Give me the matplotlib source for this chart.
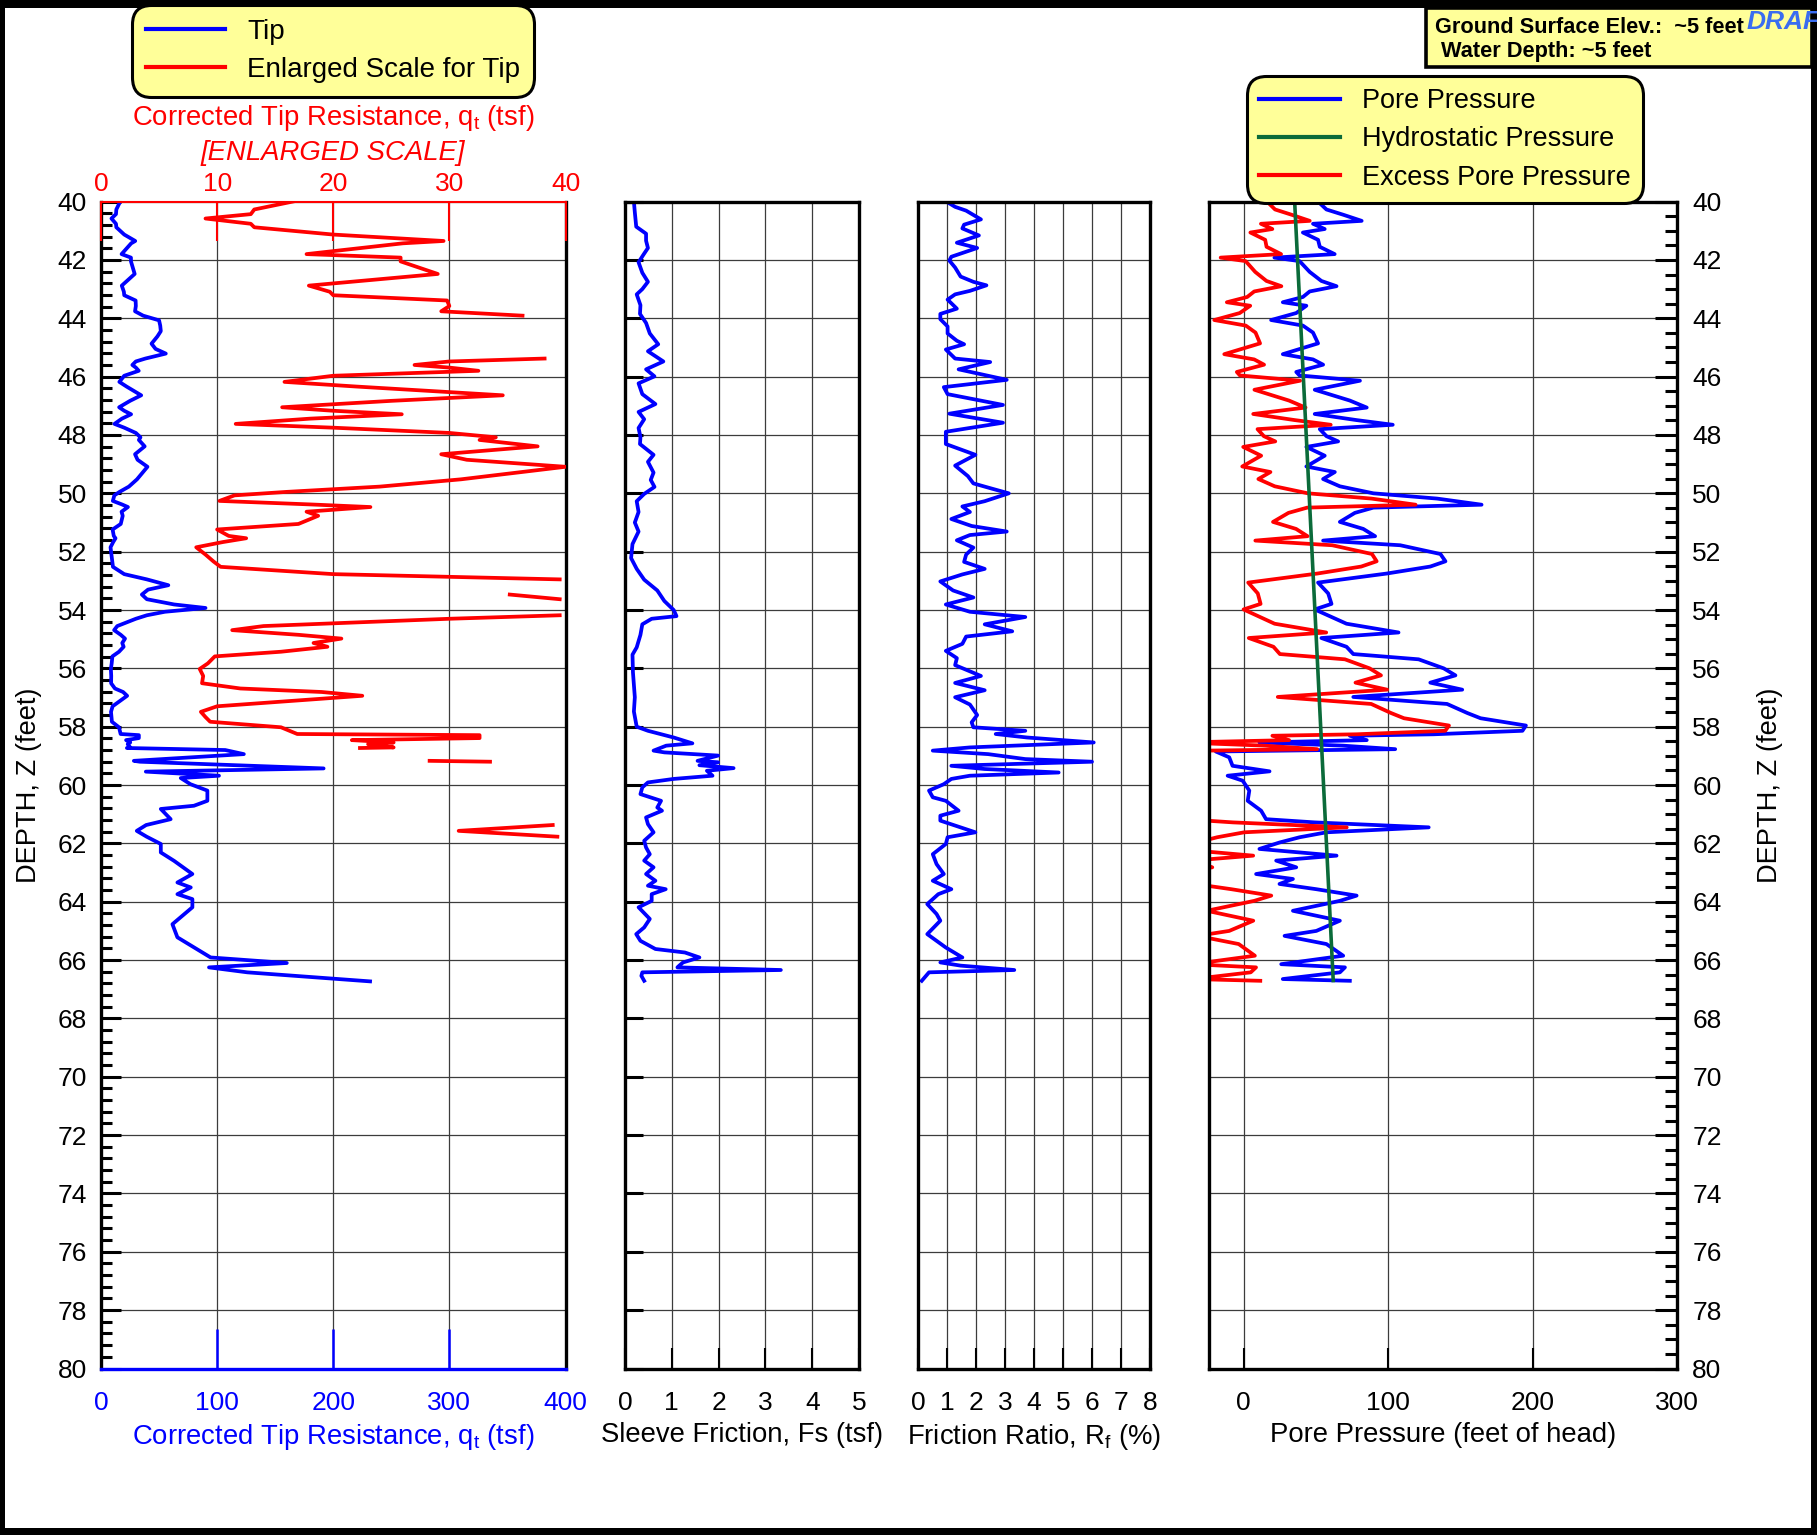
import numpy as np
import matplotlib
matplotlib.use("Agg")
import matplotlib.pyplot as plt
from matplotlib.ticker import MultipleLocator
from matplotlib.lines import Line2D
from matplotlib.patches import Rectangle

plt.rcParams['font.family'] = ['Liberation Sans', 'DejaVu Sans']
plt.rcParams['mathtext.fontset'] = 'custom'
plt.rcParams['mathtext.rm'] = 'Liberation Sans'
plt.rcParams['mathtext.it'] = 'Liberation Sans:italic'

# ---- data read off the CPT log ----
# corrected tip resistance qt (tsf)
tip_depth = [40.00, 40.27, 40.43, 40.58, 40.76, 40.88, 41.13, 41.35, 41.43, 41.80, 41.92, 42.05,
             42.48, 42.88, 43.09, 43.21, 43.39, 43.58, 43.76, 43.91, 44.07, 44.25, 44.44, 44.62,
             44.87, 45.05, 45.21, 45.38, 45.48, 45.60, 45.69, 45.80, 45.90, 45.97, 46.18, 46.34,
             46.64, 46.83, 47.05, 47.17, 47.29, 47.44, 47.62, 47.75, 47.93, 48.08, 48.17, 48.39,
             48.54, 48.66, 48.85, 49.09, 49.28, 49.52, 49.77, 49.95, 50.07, 50.26, 50.38, 50.47,
             50.63, 50.77, 51.05, 51.24, 51.46, 51.54, 51.67, 51.85, 52.10, 52.34, 52.52, 52.77,
             52.95, 53.15, 53.30, 53.47, 53.63, 53.81, 53.93, 54.06, 54.18, 54.30, 54.55, 54.69,
             54.85, 54.98, 55.13, 55.26, 55.43, 55.59, 55.83, 56.02, 56.26, 56.51, 56.69, 56.81,
             56.94, 57.10, 57.30, 57.49, 57.67, 57.83, 58.02, 58.25, 58.29, 58.39, 58.46, 58.54,
             58.60, 58.71, 58.73, 58.80, 58.94, 59.17, 59.20, 59.43, 59.54, 59.68, 59.76, 59.97,
             60.19, 60.54, 60.71, 60.82, 61.17, 61.37, 61.57, 61.77, 62.02, 62.31, 62.60, 63.05,
             63.34, 63.51, 63.74, 63.91, 64.19, 64.77, 65.22, 65.91, 66.10, 66.25, 66.42, 66.73]
tip_qt = [16.5, 13.2, 12.9, 9.0, 12.9, 13.2, 20.0, 29.5, 26.0, 17.7, 25.8, 25.8,
          29.0, 17.9, 19.7, 20.0, 29.8, 30.0, 29.3, 36.3, 50.0, 51.0, 51.5, 48.6,
          43.5, 47.0, 55.8, 38.2, 30.0, 27.0, 30.0, 32.5, 25.0, 20.0, 15.8, 22.0,
          34.6, 25.0, 15.6, 20.0, 25.9, 18.0, 11.6, 20.0, 30.0, 34.0, 32.6, 37.6,
          33.0, 29.3, 31.5, 40.0, 36.0, 31.0, 24.0, 16.0, 11.5, 10.2, 18.0, 23.2,
          17.7, 18.7, 17.0, 10.0, 11.0, 12.5, 10.5, 8.2, 9.0, 9.7, 10.3, 20.0,
          39.5, 58.0, 40.5, 35.2, 39.5, 63.0, 90.0, 55.0, 39.5, 30.0, 14.0, 11.3,
          17.0, 20.7, 18.3, 19.5, 15.5, 9.8, 9.2, 8.5, 8.8, 8.7, 12.0, 19.0,
          22.5, 16.9, 10.0, 8.6, 9.0, 9.4, 15.5, 16.9, 32.6, 32.6, 21.6, 25.2,
          23.0, 25.2, 22.3, 107.0, 123.0, 28.3, 33.5, 191.7, 38.6, 101.6, 68.7, 77.0,
          91.6, 91.6, 80.0, 51.5, 60.0, 38.9, 30.8, 39.3, 51.5, 51.5, 63.0, 78.7,
          65.8, 77.3, 65.8, 78.7, 78.7, 61.5, 65.8, 94.4, 160.0, 93.0, 126.0, 231.7]

# sleeve friction fs (tsf)
fs_depth = [40.00, 40.37, 40.86, 41.10, 41.34, 41.59, 41.83, 42.08, 42.44, 42.75, 43.00, 43.18,
            43.55, 43.85, 44.16, 44.52, 44.89, 45.13, 45.48, 45.75, 45.99, 46.23, 46.60, 46.94,
            47.21, 47.46, 47.76, 48.07, 48.31, 48.68, 48.92, 49.29, 49.54, 49.78, 50.02, 50.27,
            50.64, 51.00, 51.31, 51.74, 52.22, 52.59, 52.96, 53.33, 53.69, 54.00, 54.21, 54.30,
            54.49, 54.85, 55.28, 55.53, 56.14, 56.99, 57.48, 58.00, 58.14, 58.37, 58.57, 58.65,
            58.82, 58.88, 58.99, 59.17, 59.22, 59.32, 59.42, 59.51, 59.68, 59.79, 59.91, 60.08,
            60.31, 60.54, 60.77, 60.88, 61.11, 61.34, 61.62, 61.91, 62.14, 62.37, 62.59, 62.82,
            63.05, 63.28, 63.45, 63.57, 63.74, 63.97, 64.19, 64.59, 64.88, 65.11, 65.34, 65.62,
            65.74, 65.91, 66.08, 66.19, 66.25, 66.34, 66.42, 66.54, 66.71]
fs_tsf = [0.19, 0.21, 0.24, 0.45, 0.45, 0.49, 0.39, 0.29, 0.37, 0.49, 0.37, 0.25,
          0.33, 0.32, 0.45, 0.53, 0.71, 0.49, 0.82, 0.45, 0.63, 0.29, 0.37, 0.65,
          0.29, 0.41, 0.29, 0.33, 0.32, 0.61, 0.49, 0.61, 0.55, 0.63, 0.41, 0.25,
          0.29, 0.21, 0.29, 0.16, 0.13, 0.25, 0.41, 0.69, 0.84, 1.04, 1.10, 0.57,
          0.37, 0.33, 0.25, 0.16, 0.17, 0.21, 0.19, 0.25, 0.49, 1.04, 1.44, 0.88,
          0.61, 0.84, 1.99, 1.55, 1.99, 1.59, 2.32, 1.75, 1.87, 1.04, 0.49, 0.37,
          0.33, 0.77, 0.69, 0.79, 0.45, 0.49, 0.61, 0.41, 0.45, 0.53, 0.41, 0.61,
          0.45, 0.65, 0.49, 0.87, 0.57, 0.57, 0.29, 0.53, 0.41, 0.24, 0.33, 0.65,
          1.28, 1.59, 1.24, 1.16, 1.12, 3.33, 0.37, 0.35, 0.41]

# friction ratio Rf (%)
rf_depth = [40.06, 40.18, 40.31, 40.61, 40.79, 40.92, 41.16, 41.41, 41.59, 41.89, 42.02, 42.26,
            42.57, 42.75, 42.87, 43.06, 43.18, 43.36, 43.67, 43.85, 44.03, 44.28, 44.52, 44.77,
            44.89, 45.07, 45.38, 45.50, 45.75, 46.11, 46.36, 46.60, 46.97, 47.27, 47.58, 47.89,
            48.31, 48.68, 49.05, 49.41, 49.66, 49.84, 50.00, 50.27, 50.45, 50.64, 50.88, 51.12,
            51.31, 51.43, 51.61, 51.86, 52.10, 52.35, 52.59, 52.78, 53.02, 53.33, 53.57, 53.81,
            54.06, 54.24, 54.49, 54.73, 54.91, 55.16, 55.40, 55.65, 55.89, 56.26, 56.50, 56.75,
            56.99, 57.24, 57.60, 57.85, 58.02, 58.14, 58.25, 58.37, 58.54, 58.71, 58.82, 58.94,
            59.11, 59.20, 59.34, 59.45, 59.57, 59.68, 59.79, 59.97, 60.19, 60.42, 60.54, 60.88,
            61.05, 61.22, 61.62, 61.79, 62.02, 62.37, 62.71, 63.05, 63.28, 63.57, 63.74, 64.08,
            64.42, 64.65, 65.11, 65.57, 65.91, 66.08, 66.19, 66.34, 66.42, 66.71]
rf_pct = [1.08, 1.28, 1.66, 2.17, 1.59, 1.53, 2.10, 1.34, 2.04, 1.15, 1.08, 1.28,
          1.47, 1.91, 2.36, 1.79, 1.28, 1.02, 1.34, 0.77, 0.77, 1.02, 1.02, 1.34,
          1.59, 0.96, 1.28, 2.49, 1.40, 3.06, 0.89, 1.02, 2.93, 1.08, 2.93, 0.96,
          0.96, 1.98, 1.28, 1.72, 1.91, 2.55, 3.13, 2.30, 1.53, 1.79, 1.15, 1.85,
          3.06, 1.79, 1.34, 1.91, 1.66, 1.59, 2.30, 1.53, 0.77, 1.21, 1.91, 0.96,
          1.79, 3.70, 2.30, 3.25, 1.66, 1.53, 0.96, 1.34, 1.28, 2.17, 1.28, 2.30,
          1.28, 1.79, 2.04, 1.85, 1.91, 3.70, 2.68, 3.76, 6.06, 1.79, 0.51, 2.42,
          3.70, 6.00, 1.15, 2.30, 4.85, 1.79, 1.15, 0.89, 0.38, 0.51, 0.96, 1.40,
          0.77, 0.77, 1.98, 1.02, 0.96, 0.51, 0.64, 0.89, 0.51, 1.15, 0.70, 0.32,
          0.64, 0.77, 0.32, 0.96, 1.53, 0.77, 1.47, 3.32, 0.38, 0.13]

# pore pressure u2 (feet of head)
u_depth = [40.00, 40.27, 40.45, 40.66, 40.76, 40.94, 41.06, 41.31, 41.55, 41.80, 41.92, 42.04,
           42.41, 42.72, 42.90, 43.08, 43.27, 43.45, 43.57, 43.82, 44.06, 44.25, 44.49, 44.86,
           45.23, 45.41, 45.59, 45.84, 45.96, 46.14, 46.45, 46.82, 47.06, 47.28, 47.49, 47.65,
           47.80, 48.04, 48.22, 48.41, 48.71, 49.08, 49.27, 49.51, 49.76, 50.00, 50.18, 50.39,
           50.49, 50.67, 50.98, 51.22, 51.47, 51.62, 51.78, 52.08, 52.33, 52.51, 52.75, 53.06,
           53.43, 53.79, 53.98, 54.47, 54.77, 54.96, 55.26, 55.51, 55.69, 56.00, 56.24, 56.49,
           56.73, 56.98, 57.22, 57.53, 57.71, 57.96, 58.14, 58.26, 58.31, 58.46, 58.54, 58.65,
           58.77, 58.85, 59.05, 59.34, 59.53, 59.68, 59.85, 60.19, 60.54, 60.88, 61.17, 61.28,
           61.45, 61.62, 61.79, 61.97, 62.19, 62.42, 62.59, 62.82, 63.05, 63.22, 63.39, 63.57,
           63.79, 63.97, 64.31, 64.65, 65.00, 65.17, 65.45, 65.85, 66.14, 66.25, 66.42, 66.65, 66.71]
u_ft = [51.5, 57.3, 68.9, 81.7, 48.0, 56.1, 41.0, 51.5, 52.7, 63.0, 21.3, 38.7,
        45.7, 53.8, 64.3, 45.7, 41.0, 27.1, 43.4, 36.4, 19.0, 41.0, 48.0, 51.5,
        27.1, 48.0, 55.0, 36.4, 38.7, 80.5, 49.2, 73.5, 85.2, 49.2, 78.2, 103.2,
        52.7, 57.3, 65.4, 43.4, 56.1, 43.4, 63.1, 55.0, 66.6, 89.8, 133.9, 164.7,
        89.8, 77.0, 66.6, 82.8, 91.0, 55.0, 108.4, 136.2, 139.7, 129.2, 99.0, 51.5,
        58.5, 60.8, 49.2, 71.2, 107.2, 53.8, 71.2, 75.9, 121.1, 138.5, 146.6, 129.2,
        151.3, 75.9, 140.8, 154.8, 164.0, 195.4, 193.0, 131.6, 73.5, 85.2, 10.9, 68.9,
        104.9, -19.3, -10.0, -7.7, 17.9, -11.1, -0.7, 3.9, 2.8, 12.1, 15.5, 49.2,
        128.1, 57.3, 38.7, 24.8, 10.9, 64.3, 22.5, 36.4, 8.6, 34.1, 24.8, 50.3,
        78.2, 66.6, 34.1, 66.6, 50.3, 28.3, 57.3, 68.9, 26.0, 70.1, 66.6, 27.1, 73.5]

# hydrostatic line end points (feet of head)
hydro_depth = [40.0, 66.7]
hydro_ft = [35.3, 62.0]

tip_depth = np.array(tip_depth)
tip_qt = np.array(tip_qt)
u_depth = np.array(u_depth)
u_ft = np.array(u_ft)
# enlarged scale only shows values that fit on 0-40
tip_enl = np.where(tip_qt <= 40, tip_qt, np.nan)
# excess pore pressure = measured minus hydrostatic
excess = u_ft - np.interp(u_depth, hydro_depth, hydro_ft)

# ---- figure ----
W, H = 1817, 1535
fig = plt.figure(figsize=(W / 100, H / 100), dpi=100, facecolor='black')
fig.add_artist(Rectangle((5 / W, 1 - 1528 / H), 1806 / W, 1520 / H, transform=fig.transFigure,
                         facecolor='white', edgecolor='none', zorder=-5))

top, bot = 201.6, 1368.5


def panel(x0, x1):
    return fig.add_axes([x0 / W, 1 - bot / H, (x1 - x0) / W, (bot - top) / H])


ax1 = panel(101, 565.5)
ax2 = panel(625, 859)
ax3 = panel(918, 1150)
ax4 = panel(1209, 1677)

BLUE, RED, GREEN = '#0000ff', '#ff0000', '#0b6b3a'
LW = 2.7
TICK_FS = 19
LAB_FS = 19.8

for ax in (ax1, ax2, ax3, ax4):
    ax.set_ylim(80, 40)
    ax.yaxis.set_major_locator(MultipleLocator(2))
    ax.grid(True, color='#3c3c3c', lw=0.9)
    ax.set_axisbelow(True)
    for s in ax.spines.values():
        s.set_linewidth(2.4)
    ax.tick_params(axis='x', which='both', direction='in', top=False, labelsize=TICK_FS, pad=16,
                   length=15, width=1.5)
    ax.tick_params(axis='y', labelsize=TICK_FS)

# panel 1 - tip resistance
ax1.plot(tip_qt, tip_depth, color=BLUE, lw=LW)
ax1.set_xlim(0, 400)
ax1.set_xticks([0, 100, 200, 300, 400])
ax1.tick_params(axis='x', colors=BLUE, length=29, width=1.8)
ax1.spines['bottom'].set_color(BLUE)
ax1.spines['top'].set_visible(False)
ax1.yaxis.set_minor_locator(MultipleLocator(0.4))
ax1.tick_params(axis='y', which='major', direction='in', right=False, length=14.4, width=2.2, pad=10)
ax1.tick_params(axis='y', which='minor', direction='in', right=False, length=7.7, width=2.2)
ax1.set_xlabel('Corrected Tip Resistance, q$_{\\rm t}$ (tsf)', color=BLUE, fontsize=LAB_FS, labelpad=5)

ax1t = ax1.twiny()
ax1t.plot(tip_enl, tip_depth, color=RED, lw=LW)
ax1t.set_xlim(0, 40)
ax1t.set_xticks([0, 10, 20, 30, 40])
ax1t.tick_params(axis='x', direction='in', length=28, width=1.5, colors=RED, labelsize=TICK_FS, pad=4)
for k, s in ax1t.spines.items():
    s.set_visible(k == 'top')
ax1t.spines['top'].set_color(RED)
ax1t.spines['top'].set_linewidth(1.5)

# panel 2 - sleeve friction
ax2.plot(fs_tsf, fs_depth, color=BLUE, lw=LW)
ax2.set_xlim(0, 5)
ax2.set_xticks(range(0, 6))
ax2.tick_params(axis='y', direction='in', length=13, width=2.2, labelleft=False)
ax2.set_xlabel('Sleeve Friction, Fs (tsf)', fontsize=LAB_FS, labelpad=5)

# panel 3 - friction ratio
ax3.plot(rf_pct, rf_depth, color=BLUE, lw=LW)
ax3.set_xlim(0, 8)
ax3.set_xticks(range(0, 9))
ax3.tick_params(axis='y', length=0, labelleft=False)
ax3.set_xlabel('Friction Ratio, R$_{\\rm f}$ (%)', fontsize=LAB_FS, labelpad=5)

# panel 4 - pore pressure
ax4.plot(u_ft, u_depth, color=BLUE, lw=LW)
ax4.plot(excess, u_depth, color=RED, lw=LW)
ax4.plot(hydro_ft, hydro_depth, color=GREEN, lw=2.6)
ax4.set_xlim(-24, 300)
ax4.set_xticks([0, 100, 200, 300])
ax4.yaxis.tick_right()
ax4.yaxis.set_minor_locator(MultipleLocator(0.5))
ax4.tick_params(axis='y', which='major', direction='in', left=False, right=True,
                labelright=True, length=15.6, width=2.2, pad=11)
ax4.tick_params(axis='y', which='minor', direction='in', left=False, right=True, length=9, width=2.2)
ax4.set_xlabel('Pore Pressure (feet of head)', fontsize=LAB_FS, labelpad=5)

# depth labels
fig.text(29 / W, 1 - 785 / H, 'DEPTH, Z (feet)', rotation=90, ha='center', va='center', fontsize=19.6)
fig.text(1770 / W, 1 - 785 / H, 'DEPTH, Z (feet)', rotation=90, ha='center', va='center', fontsize=19.6)

# enlarged scale title
fig.text(333 / W, 1 - 125 / H, 'Corrected Tip Resistance, q$_{\\rm t}$ (tsf)', color=RED,
         ha='center', va='baseline', fontsize=LAB_FS)
fig.text(333 / W, 1 - 160 / H, '[ENLARGED SCALE]', color=RED, style='italic',
         ha='center', va='baseline', fontsize=LAB_FS)

# legends
leg1 = fig.legend([Line2D([], [], color=BLUE, lw=3), Line2D([], [], color=RED, lw=3)],
                  ['Tip', 'Enlarged Scale for Tip'], loc='upper left',
                  bbox_to_anchor=(132 / W, 1 - 5 / H), bbox_transform=fig.transFigure,
                  borderaxespad=0, fontsize=20, handlelength=2.85, handletextpad=0.8,
                  labelspacing=0.43, borderpad=0.5, fancybox=True, facecolor='#ffff99',
                  edgecolor='black', framealpha=1)
leg2 = fig.legend([Line2D([], [], color=BLUE, lw=3), Line2D([], [], color=GREEN, lw=3),
                   Line2D([], [], color=RED, lw=3)],
                  ['Pore Pressure', 'Hydrostatic Pressure', 'Excess Pore Pressure'],
                  loc='upper left', bbox_to_anchor=(1247 / W, 1 - 76 / H),
                  bbox_transform=fig.transFigure, borderaxespad=0, fontsize=19.5,
                  handlelength=3.0, handletextpad=0.78, labelspacing=0.45, borderpad=0.45,
                  fancybox=True, facecolor='#ffff99', edgecolor='black', framealpha=1)
for leg in (leg1, leg2):
    fr = leg.get_frame()
    fr.set_linewidth(2.2)
    fr.set_boxstyle('round', pad=0, rounding_size=0.7)

# site info box
fig.add_artist(Rectangle((1426 / W, 1 - 67 / H), 386 / W, 59 / H, transform=fig.transFigure,
                         facecolor='#ffff99', edgecolor='black', lw=2.6, zorder=4))
fig.text(1435 / W, 1 - 33 / H, 'Ground Surface Elev.:  ~5 feet', fontsize=15.7,
         fontweight='bold', va='baseline', zorder=6)
fig.text(1435 / W, 1 - 57 / H, ' Water Depth: ~5 feet', fontsize=15.7,
         fontweight='bold', va='baseline', zorder=6)
fig.text(1747 / W, 1 - 29 / H, 'DRAFT', fontsize=19, fontweight='bold', style='italic',
         color='#3a6df0', va='baseline', zorder=6)

fig.savefig('out.png', dpi=100, facecolor=fig.get_facecolor())
